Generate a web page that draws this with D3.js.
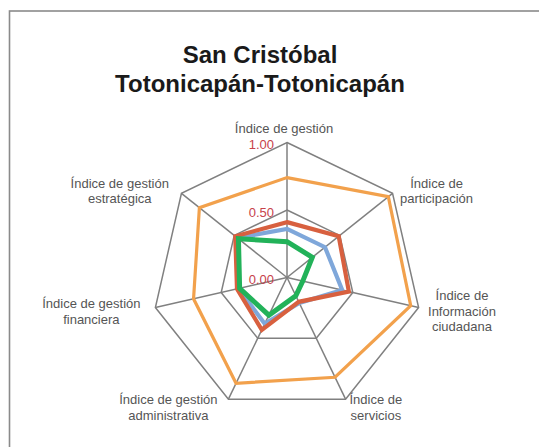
<!DOCTYPE html>
<html>
<head>
<meta charset="utf-8">
<script src="https://cdn.jsdelivr.net/npm/d3@7"></script>
<style>
  body { margin: 0; background: #fff; }
  svg { display: block; }
</style>
</head>
<body>
<div class="chart"></div>
<script>
// categories, clockwise from the top
const categories = [
  ["Índice de gestión"],
  ["Índice de", "participación"],
  ["Índice de", "Información", "ciudadana"],
  ["Índice de", "servicios"],
  ["Índice de gestión", "administrativa"],
  ["Índice de gestión", "financiera"],
  ["Índice de gestión", "estratégica"]
];

// series values
const orangeValues = [0.74, 0.96, 0.94, 0.82, 0.87, 0.71, 0.83];
const blueValues   = [0.36, 0.36, 0.42, 0.21, 0.38, 0.37, 0.47];
const redValues    = [0.41, 0.49, 0.47, 0.20, 0.43, 0.38, 0.49];
const greenValues  = [0.265, 0.24, 0.12, 0.15, 0.31, 0.36, 0.46];

const tickValues = [0, 0.5, 1];
const tickLabels = ["0.00", "0.50", "1.00"];

const titleLines = ["San Cristóbal", "Totonicapán-Totonicapán"];

let chart = {};

chart.width = 539;
chart.height = 447;
chart.cx = 287;
chart.cy = 277.5;
chart.R = 135;

chart.svg = d3.select(".chart").append("svg")
  .attr("width", chart.width)
  .attr("height", chart.height);

// outer frame
chart.svg.append("rect")
  .attr("x", 9.5).attr("y", 11)
  .attr("width", 560).attr("height", 470)
  .attr("fill", "none")
  .attr("stroke", "#8a8a8a")
  .attr("stroke-width", 1.6);

// title
chart.svg.append("text")
  .attr("x", 260)
  .attr("y", 63)
  .attr("text-anchor", "middle")
  .style("font-family", "Liberation Sans, Arial, sans-serif")
  .style("font-weight", "bold")
  .style("font-size", "24px")
  .style("fill", "#1a1a1a")
  .selectAll("tspan")
  .data(titleLines).enter()
  .append("tspan")
  .attr("x", 260)
  .attr("dy", (d, i) => i === 0 ? 0 : 28.5)
  .text(d => d);

const n = categories.length;
const angle = d3.scaleLinear().domain([0, n]).range([0, 2 * Math.PI]);
const r = d3.scaleLinear().domain([0, 1]).range([0, chart.R]);

chart.plot = chart.svg.append("g")
  .attr("transform", `translate(${chart.cx},${chart.cy})`);

const pt = (i, v) => [Math.sin(angle(i)) * r(v), -Math.cos(angle(i)) * r(v)];

// grid rings
chart.plot.selectAll("path.ring")
  .data(tickValues.filter(t => t > 0)).enter()
  .append("path")
  .attr("class", "ring")
  .attr("d", t => d3.line()(d3.range(n).map(i => pt(i, t))) + "Z")
  .attr("fill", "none")
  .attr("stroke", "#808080")
  .attr("stroke-width", 1.5);

// spokes
chart.plot.selectAll("line.spoke")
  .data(d3.range(n)).enter()
  .append("line")
  .attr("class", "spoke")
  .attr("x1", 0).attr("y1", 0)
  .attr("x2", i => pt(i, 1)[0])
  .attr("y2", i => pt(i, 1)[1])
  .attr("stroke", "#808080")
  .attr("stroke-width", 1.5);

// series
const series = [
  { values: orangeValues, color: "#F2A14C", width: 3.2 },
  { values: blueValues,   color: "#7FA7DA", width: 4.2 },
  { values: redValues,    color: "#D8603F", width: 4.2 },
  { values: greenValues,  color: "#22B259", width: 5 }
];

const radial = d3.lineRadial()
  .angle((d, i) => angle(i))
  .radius(d => r(d))
  .curve(d3.curveLinearClosed);

chart.plot.selectAll("path.series")
  .data(series).enter()
  .append("path")
  .attr("class", "series")
  .attr("d", d => radial(d.values))
  .attr("fill", "none")
  .attr("stroke", d => d.color)
  .attr("stroke-width", d => d.width)
  .attr("stroke-linejoin", "miter");

// tick labels
chart.plot.selectAll("text.tick")
  .data(tickValues).enter()
  .append("text")
  .attr("class", "tick")
  .attr("x", -13)
  .attr("y", t => -r(t) + 2)
  .attr("dy", "0.35em")
  .attr("text-anchor", "end")
  .style("font-family", "Liberation Sans, Arial, sans-serif")
  .style("font-size", "13px")
  .style("fill", "#C7424A")
  .text((t, i) => tickLabels[i]);

// category labels
const labelGap = [0, 7.5, 9.4, 3.9, 10.9, 14.9, 12.6];
const lineH = 15.8;

const labels = chart.plot.selectAll("text.cat")
  .data(categories).enter()
  .append("text")
  .attr("class", "cat")
  .attr("text-anchor", "middle")
  .style("font-family", "Liberation Sans, Arial, sans-serif")
  .style("font-size", "13px")
  .style("fill", "#555");

labels.each(function(lines, i) {
  const t = d3.select(this);
  lines.forEach((l, k) => {
    t.append("tspan").attr("x", 0).attr("dy", k === 0 ? 0 : lineH).text(l);
  });
  const w = d3.max(t.selectAll("tspan").nodes(), s => s.getComputedTextLength());
  const [ex, ey] = pt(i, 1);
  const a = angle(i);
  let cx, cy;
  if (i === 0) {
    cx = ex - 3;
    cy = ey - 14.5;
  } else {
    const side = Math.sin(a) > 0 ? 1 : -1;
    cx = ex + side * (w / 2 + labelGap[i]);
    cy = ey - Math.cos(a) * 7 + 2;
  }
  const top = cy - (lines.length - 1) * lineH / 2;
  t.attr("transform", `translate(${cx},${top})`);
  t.selectAll("tspan").attr("x", 0);
  t.select("tspan").attr("dy", "0.35em");
});
</script>
</body>
</html>
